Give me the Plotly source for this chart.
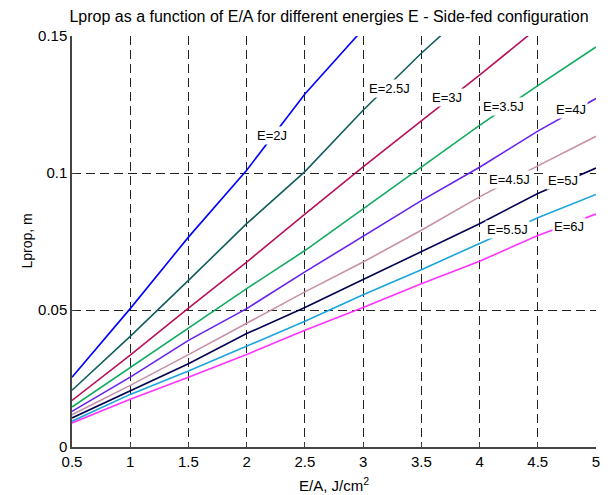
import plotly.graph_objects as go

# ---- data ----
ea = [0.5, 1.0, 1.5, 2.0, 2.5, 3.0, 3.5, 4.0, 4.5, 5.0]

energies = ["E=2J", "E=2.5J", "E=3J", "E=3.5J", "E=4J", "E=4.5J", "E=5J", "E=5.5J", "E=6J"]

lprop_2J = [0.0255, 0.0505, 0.0766, 0.1010, 0.1288, 0.1525]
lprop_2_5J = [0.0207, 0.0404, 0.0608, 0.0815, 0.1005, 0.1229, 0.1437, 0.1630]
lprop_3J = [0.0170, 0.0335, 0.0507, 0.0675, 0.0850, 0.1022, 0.1190, 0.1357, 0.1530]
lprop_3_5J = [0.0146, 0.0290, 0.0436, 0.0578, 0.0717, 0.0870, 0.1022, 0.1174, 0.1319, 0.1460]
lprop_4J = [0.0130, 0.0255, 0.0389, 0.0505, 0.0639, 0.0770, 0.0899, 0.1021, 0.1153, 0.1272]
lprop_4_5J = [0.0118, 0.0225, 0.0337, 0.0453, 0.0566, 0.0675, 0.0791, 0.0913, 0.1026, 0.1134]
lprop_5J = [0.0106, 0.0204, 0.0304, 0.0414, 0.0509, 0.0611, 0.0714, 0.0815, 0.0925, 0.1018]
lprop_5_5J = [0.0094, 0.0192, 0.0277, 0.0369, 0.0459, 0.0556, 0.0647, 0.0743, 0.0837, 0.0922]
lprop_6J = [0.0088, 0.0174, 0.0255, 0.0338, 0.0426, 0.0509, 0.0596, 0.0678, 0.0772, 0.0850]

series = [lprop_2J, lprop_2_5J, lprop_3J, lprop_3_5J, lprop_4J,
          lprop_4_5J, lprop_5J, lprop_5_5J, lprop_6J]

# contour-label positions (E/A, Lprop)
label_x = [2.217, 3.227, 3.717, 4.207, 4.787, 4.254, 4.716, 4.241, 4.766]
label_y = [0.1136, 0.1310, 0.1274, 0.1242, 0.1230, 0.0975, 0.0972, 0.0795, 0.0806]

x_ticks = [0.5, 1, 1.5, 2, 2.5, 3, 3.5, 4, 4.5, 5]
x_tick_text = ["0.5", "1", "1.5", "2", "2.5", "3", "3.5", "4", "4.5", "5"]
y_ticks = [0, 0.05, 0.1, 0.15]
y_tick_text = ["0", "0.05", "0.1", "0.15"]

colors = ["#0000ff", "#125e5e", "#b8105a", "#10aa60", "#6622ee",
          "#c890a8", "#000050", "#1aa5dd", "#ff33ff"]

FONT = "Liberation Sans, Arial, sans-serif"

fig = go.Figure()
for name, ys, c in zip(energies, series, colors):
    fig.add_trace(go.Scatter(x=ea[:len(ys)], y=ys, mode="lines", name=name,
                             line=dict(color=c, width=1.6), showlegend=False))

for name, lx, ly in zip(energies, label_x, label_y):
    fig.add_annotation(x=lx, y=ly, text=name, showarrow=False,
                       xanchor="center", yanchor="middle",
                       font=dict(family=FONT, size=13, color="#000000"),
                       bgcolor="white", borderpad=1)

fig.add_annotation(xref="paper", yref="paper", x=0.5, y=0, yshift=-37,
                   xanchor="center", yanchor="middle",
                   text="E/A, J/cm<sup>2</sup>", showarrow=False,
                   font=dict(family=FONT, size=15, color="#000000"))
fig.add_annotation(xref="paper", yref="paper", x=0, y=0.5, xshift=-46,
                   xanchor="center", yanchor="middle",
                   text="Lprop, m", textangle=-90, showarrow=False,
                   font=dict(family=FONT, size=14, color="#000000"))

fig.update_layout(
    width=610, height=495,
    margin=dict(l=72, r=10, t=36, b=48),
    paper_bgcolor="white", plot_bgcolor="white",
    title=dict(text="Lprop as a function of E/A for different energies E - Side-fed configuration",
               x=329 / 610, xanchor="center", y=1 - 16 / 495, yanchor="middle",
               font=dict(family=FONT, size=16, color="#000000")),
    font=dict(family=FONT, size=14, color="#000000"),
)
fig.update_xaxes(range=[0.5, 5], tickvals=x_ticks, ticktext=x_tick_text,
                 showgrid=True, gridcolor="#222222", gridwidth=1, griddash="9px,5px",
                 zeroline=False, showline=True, linecolor="#444444", linewidth=1.5,
                 ticks="inside", ticklen=4, tickcolor="#444444",
                 tickfont=dict(family=FONT, size=15, color="#000000"))
fig.update_yaxes(range=[0, 0.15], tickvals=y_ticks, ticktext=y_tick_text,
                 showgrid=True, gridcolor="#222222", gridwidth=1, griddash="9px,5px",
                 zeroline=False, showline=True, linecolor="#444444", linewidth=1.5,
                 ticks="inside", ticklen=4, tickcolor="#444444",
                 tickfont=dict(family=FONT, size=15, color="#000000"))

fig.write_html("out.html")
